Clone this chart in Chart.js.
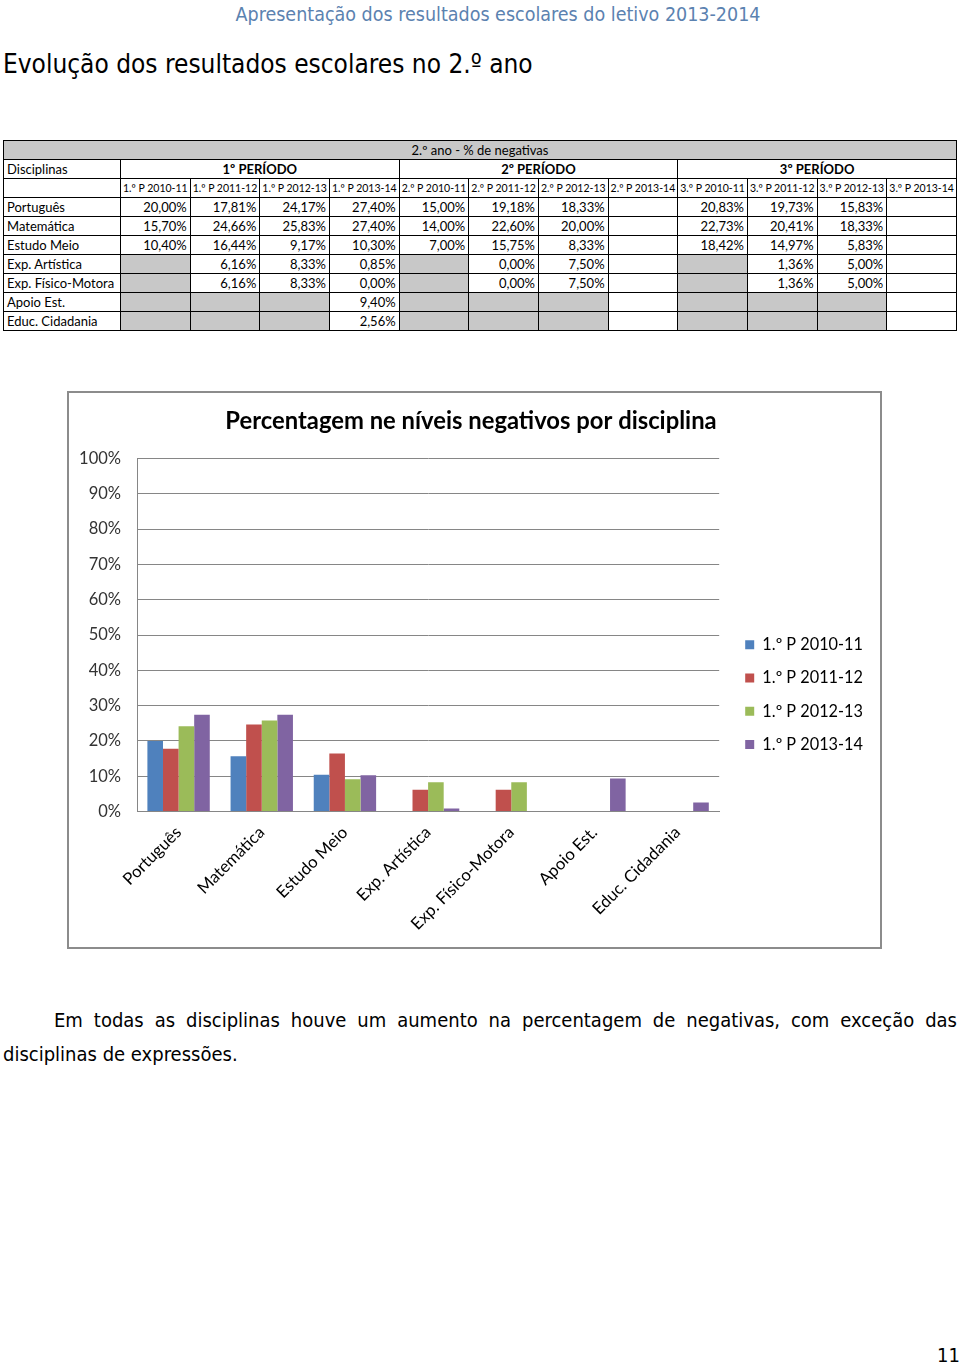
<!DOCTYPE html>
<html>
<head>
<meta charset="utf-8">
<script src="https://cdn.jsdelivr.net/npm/chart.js@4"></script>
<style>
    body { margin: 0; width: 960px; height: 1363px; background: #fff; position: relative; font-family: 'DejaVu Sans Condensed', 'DejaVu Sans', sans-serif; }
    .header { position: absolute; top: 3px; left: 0; width: 996px; text-align: center; color: #5b82b0; font-size: 19.5px; }
    .title { position: absolute; top: 49px; left: 3px; font-size: 26px; color: #000; }
    table { position: absolute; top: 140px; left: 3px; border-collapse: collapse; table-layout: fixed; width: 954px; font-family: Lato, sans-serif; font-size: 13px; }
    td { border: 1px solid #000; height: 18px; padding: 0 3px; white-space: nowrap; overflow: hidden; line-height: 17px; }
    td.num { text-align: right; }
    td.gray { background: #c8c8c8; }
    td.sub { font-size: 10.5px; text-align: center; padding: 0; }
    td.per { font-weight: bold; text-align: center; }
    tr.top td { background: #c8c8c8; text-align: center; }
    .chart-box { position: absolute; left: 67px; top: 391px; width: 811px; height: 554px; border: 2px solid #8c8c8c; }
    .text { position: absolute; top: 1003px; left: 3px; width: 954px; font-size: 20px; line-height: 34px; text-align: justify; text-indent: 51px; }
    .page { position: absolute; top: 1343px; left: 937px; font-size: 20px; }
</style>
</head>
<body>
<div class="header">Apresentação dos resultados escolares do letivo 2013-2014</div>
<div class="title">Evolução dos resultados escolares no 2.º ano</div>
<table id="tbl"></table>
<div class="chart-box"><canvas id="chart" width="811" height="554"></canvas></div>
<div class="text">Em todas as disciplinas houve um aumento na percentagem de negativas, com exceção das disciplinas de expressões.</div>
<div class="page">11</div>

<script>
// Data
const categories = ['Português', 'Matemática', 'Estudo Meio', 'Exp. Artística', 'Exp. Físico-Motora', 'Apoio Est.', 'Educ. Cidadania'];
const periods = ['1º PERÍODO', '2º PERÍODO', '3º PERÍODO'];
const years = ['2010-11', '2011-12', '2012-13', '2013-14'];

// null = gray cell (no data), '' = empty cell
const tableRows = [
    ['20,00%', '17,81%', '24,17%', '27,40%', '15,00%', '19,18%', '18,33%', '', '20,83%', '19,73%', '15,83%', ''],
    ['15,70%', '24,66%', '25,83%', '27,40%', '14,00%', '22,60%', '20,00%', '', '22,73%', '20,41%', '18,33%', ''],
    ['10,40%', '16,44%', '9,17%', '10,30%', '7,00%', '15,75%', '8,33%', '', '18,42%', '14,97%', '5,83%', ''],
    [null, '6,16%', '8,33%', '0,85%', null, '0,00%', '7,50%', '', null, '1,36%', '5,00%', ''],
    [null, '6,16%', '8,33%', '0,00%', null, '0,00%', '7,50%', '', null, '1,36%', '5,00%', ''],
    [null, null, null, '9,40%', null, null, null, '', null, null, null, ''],
    [null, null, null, '2,56%', null, null, null, '', null, null, null, '']
];

// chart series: 1.º período, one per school year
const seriesLabels = ['1.º P 2010-11', '1.º P 2011-12', '1.º P 2012-13', '1.º P 2013-14'];
const p2010_11 = [20.00, 15.70, 10.40, null, null, null, null];
const p2011_12 = [17.81, 24.66, 16.44, 6.16, 6.16, null, null];
const p2012_13 = [24.17, 25.83, 9.17, 8.33, 8.33, null, null];
const p2013_14 = [27.40, 27.40, 10.30, 0.85, 0.00, 9.40, 2.56];
const yTicks = [0, 10, 20, 30, 40, 50, 60, 70, 80, 90, 100];

const colors = ['#4f81bd', '#c0504d', '#9bbb59', '#8064a2'];

function buildTable() {
    const tbl = document.getElementById('tbl');
    let html = '<colgroup><col style="width:117px">';
    for (let i = 0; i < 12; i++) html += '<col>';
    html += '</colgroup>';
    html += '<tr class="top"><td colspan="13">2.º ano - % de negativas</td></tr>';
    html += '<tr><td>Disciplinas</td>' + periods.map(p => `<td class="per" colspan="4">${p}</td>`).join('') + '</tr>';
    html += '<tr><td></td>';
    for (let p = 1; p <= 3; p++) {
        years.forEach(y => { html += `<td class="sub">${p}.º P ${y}</td>`; });
    }
    html += '</tr>';
    tableRows.forEach((row, i) => {
        html += `<tr><td>${categories[i]}</td>`;
        row.forEach(v => {
            html += v === null ? '<td class="gray"></td>' : `<td class="num">${v}</td>`;
        });
        html += '</tr>';
    });
    tbl.innerHTML = html;
}

// wider gap between plot and legend, legend items keep their place
const legendGap = {
    id: 'legendGap',
    beforeLayout(chart) {
        const legend = chart.legend;
        if (!legend || legend._gapPatched) return;
        const fit = legend.fit;
        legend.fit = function () { fit.call(this); this.width += 9; };
        legend._gapPatched = true;
    },
    afterLayout(chart) {
        if (chart.legend) chart.legend.left += 9;
    }
};

function renderChart() {
    const ctx = document.getElementById('chart').getContext('2d');
    const data = [p2010_11, p2011_12, p2012_13, p2013_14];

    new Chart(ctx, {
        type: 'bar',
        data: {
            labels: categories,
            datasets: data.map((d, i) => ({
                label: seriesLabels[i],
                data: d,
                backgroundColor: colors[i],
                borderWidth: 0,
                categoryPercentage: 0.75,
                barPercentage: 1.0
            }))
        },
        plugins: [legendGap],
        options: {
            responsive: false,
            animation: false,
            layout: { padding: { left: 0, right: 7, top: 0, bottom: 10 } },
            plugins: {
                title: {
                    display: true,
                    text: 'Percentagem ne níveis negativos por disciplina',
                    color: '#000',
                    font: { family: 'Lato', size: 23.8, weight: 'bold' },
                    padding: { top: 14, bottom: 23 }
                },
                legend: {
                    position: 'right',
                    // empty title only pushes the items down a little
                    title: { display: true, text: '', font: { size: 16 }, padding: 20 },
                    labels: {
                        color: '#000',
                        font: { family: 'Lato', size: 16.3 },
                        boxWidth: 9,
                        boxHeight: 9,
                        padding: 17
                    }
                },
                tooltip: { enabled: false }
            },
            scales: {
                x: {
                    grid: { display: false },
                    border: { color: '#868686' },
                    ticks: {
                        color: '#000',
                        font: { family: 'Lato', size: 16.7 },
                        maxRotation: 45,
                        minRotation: 45
                    }
                },
                y: {
                    min: 0,
                    max: 100,
                    afterBuildTicks: axis => { axis.ticks = yTicks.map(v => ({ value: v })); },
                    afterFit: axis => { axis.width = 68; },
                    grid: { color: '#868686', drawTicks: false },
                    border: { color: '#868686' },
                    ticks: {
                        color: '#333',
                        padding: 16,
                        font: { family: 'Lato', size: 16.5 },
                        callback: v => v + '%'
                    }
                }
            }
        }
    });
}

buildTable();
renderChart();
</script>
</body>
</html>
